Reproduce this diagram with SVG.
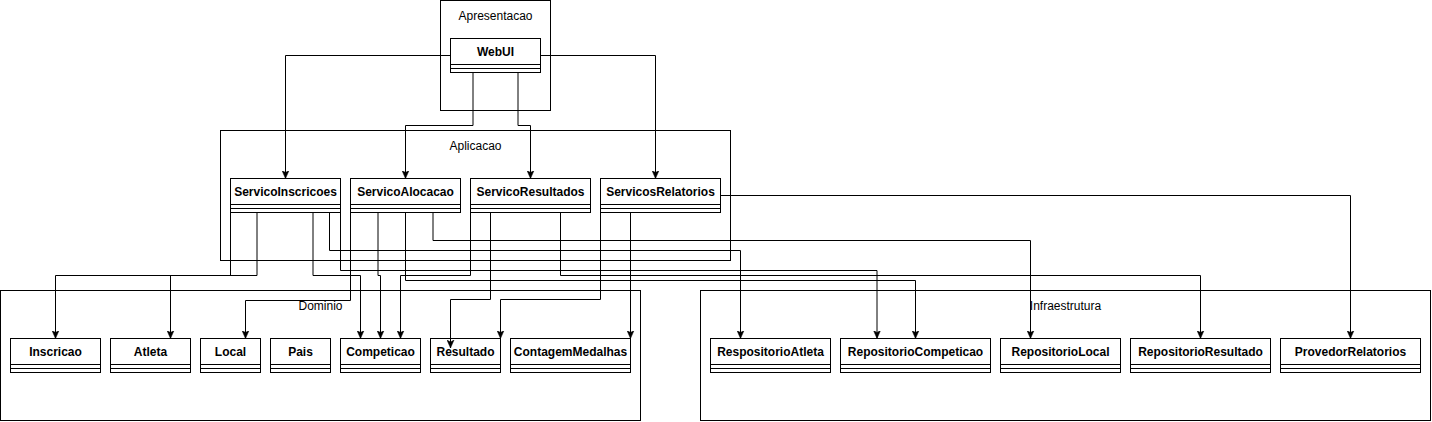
<svg xmlns="http://www.w3.org/2000/svg" width="1432" height="422" viewBox="0 0 1432 422">
<style>
.box{fill:#fff;stroke:#000;stroke-width:1}
.sep{fill:none;stroke:#000;stroke-width:1}
.cls{font-family:"Liberation Sans",Arial,sans-serif;font-size:12px;font-weight:bold;text-anchor:middle;fill:#000}
.lbl{font-family:"Liberation Sans",Arial,sans-serif;font-size:12px;text-anchor:middle;fill:#000}
.edge{fill:none;stroke:#000;stroke-width:1;marker-end:url(#arrow)}
</style>
<defs>
<marker id="arrow" markerUnits="userSpaceOnUse" markerWidth="8" markerHeight="8" viewBox="0 0 8 8" refX="8" refY="4" orient="auto">
<path d="M0,0.5 L8,4 L0,7.5 L2,4 Z" fill="#000" stroke="#000" stroke-width="0.5"/>
</marker>
</defs>
<rect width="1432" height="422" fill="#fff"/>
<g id="containers">
<g id="Apresentacao"><rect class="box" x="440.5" y="0.5" width="110" height="110"/><text class="lbl" x="495.5" y="20">Apresentacao</text></g>
<g id="Aplicacao"><rect class="box" x="220.5" y="130.5" width="510" height="130"/><text class="lbl" x="475.5" y="150">Aplicacao</text></g>
<g id="Dominio"><rect class="box" x="0.5" y="290.5" width="640" height="130"/><text class="lbl" x="320.5" y="310">Dominio</text></g>
<g id="Infraestrutura"><rect class="box" x="700.5" y="290.5" width="730" height="130"/><text class="lbl" x="1065.5" y="310">Infraestrutura</text></g>
</g>
<g id="node-WebUI"><rect class="box" x="450.5" y="38.5" width="90" height="34"/><path class="sep" d="M450.5,64.5H540.5M450.5,68.5H540.5"/><text class="cls" x="495.5" y="55.5">WebUI</text></g>
<g id="node-ServicoInscricoes"><rect class="box" x="230.5" y="178.5" width="110" height="34"/><path class="sep" d="M230.5,204.5H340.5M230.5,208.5H340.5"/><text class="cls" x="285.5" y="195.5">ServicoInscricoes</text></g>
<g id="node-ServicoAlocacao"><rect class="box" x="350.5" y="178.5" width="110" height="34"/><path class="sep" d="M350.5,204.5H460.5M350.5,208.5H460.5"/><text class="cls" x="405.5" y="195.5">ServicoAlocacao</text></g>
<g id="node-ServicoResultados"><rect class="box" x="470.5" y="178.5" width="120" height="34"/><path class="sep" d="M470.5,204.5H590.5M470.5,208.5H590.5"/><text class="cls" x="530.5" y="195.5">ServicoResultados</text></g>
<g id="node-ServicosRelatorios"><rect class="box" x="600.5" y="178.5" width="120" height="34"/><path class="sep" d="M600.5,204.5H720.5M600.5,208.5H720.5"/><text class="cls" x="660.5" y="195.5">ServicosRelatorios</text></g>
<g id="node-Inscricao"><rect class="box" x="10.5" y="338.5" width="90" height="34"/><path class="sep" d="M10.5,364.5H100.5M10.5,368.5H100.5"/><text class="cls" x="55.5" y="355.5">Inscricao</text></g>
<g id="node-Atleta"><rect class="box" x="110.5" y="338.5" width="80" height="34"/><path class="sep" d="M110.5,364.5H190.5M110.5,368.5H190.5"/><text class="cls" x="150.5" y="355.5">Atleta</text></g>
<g id="node-Local"><rect class="box" x="200.5" y="338.5" width="60" height="34"/><path class="sep" d="M200.5,364.5H260.5M200.5,368.5H260.5"/><text class="cls" x="230.5" y="355.5">Local</text></g>
<g id="node-Pais"><rect class="box" x="270.5" y="338.5" width="60" height="34"/><path class="sep" d="M270.5,364.5H330.5M270.5,368.5H330.5"/><text class="cls" x="300.5" y="355.5">Pais</text></g>
<g id="node-Competicao"><rect class="box" x="340.5" y="338.5" width="80" height="34"/><path class="sep" d="M340.5,364.5H420.5M340.5,368.5H420.5"/><text class="cls" x="380.5" y="355.5">Competicao</text></g>
<g id="node-Resultado"><rect class="box" x="430.5" y="338.5" width="70" height="34"/><path class="sep" d="M430.5,364.5H500.5M430.5,368.5H500.5"/><text class="cls" x="465.5" y="355.5">Resultado</text></g>
<g id="node-ContagemMedalhas"><rect class="box" x="510.5" y="338.5" width="120" height="34"/><path class="sep" d="M510.5,364.5H630.5M510.5,368.5H630.5"/><text class="cls" x="570.5" y="355.5">ContagemMedalhas</text></g>
<g id="node-RespositorioAtleta"><rect class="box" x="710.5" y="338.5" width="120" height="34"/><path class="sep" d="M710.5,364.5H830.5M710.5,368.5H830.5"/><text class="cls" x="770.5" y="355.5">RespositorioAtleta</text></g>
<g id="node-RepositorioCompeticao"><rect class="box" x="840.5" y="338.5" width="150" height="34"/><path class="sep" d="M840.5,364.5H990.5M840.5,368.5H990.5"/><text class="cls" x="915.5" y="355.5">RepositorioCompeticao</text></g>
<g id="node-RepositorioLocal"><rect class="box" x="1000.5" y="338.5" width="120" height="34"/><path class="sep" d="M1000.5,364.5H1120.5M1000.5,368.5H1120.5"/><text class="cls" x="1060.5" y="355.5">RepositorioLocal</text></g>
<g id="node-RepositorioResultado"><rect class="box" x="1130.5" y="338.5" width="140" height="34"/><path class="sep" d="M1130.5,364.5H1270.5M1130.5,368.5H1270.5"/><text class="cls" x="1200.5" y="355.5">RepositorioResultado</text></g>
<g id="node-ProvedorRelatorios"><rect class="box" x="1280.5" y="338.5" width="140" height="34"/><path class="sep" d="M1280.5,364.5H1420.5M1280.5,368.5H1420.5"/><text class="cls" x="1350.5" y="355.5">ProvedorRelatorios</text></g>
<g id="connectors">
<path class="edge" d="M450.5,55.5H285.5V178.5"/>
<path class="edge" d="M540.5,55.5H655.5V178.5"/>
<path class="edge" d="M473,72.5V125.5H405.5V178.5"/>
<path class="edge" d="M518,72.5V125.5H530.5V178.5"/>
<path class="edge" d="M230.5,212.5V275.5H55.5V338.5"/>
<path class="edge" d="M257,212.5V275.5H170.5V338.5"/>
<path class="edge" d="M313,212.5V275.5H360.5V338.5"/>
<path class="edge" d="M329.5,212.5V250.5H740.5V338.5"/>
<path class="edge" d="M340.5,212.5V270.5H877V338.5"/>
<path class="edge" d="M350.5,212.5V300.5H245.5V338.5"/>
<path class="edge" d="M378,212.5V275.5H380.5V338.5"/>
<path class="edge" d="M405.5,212.5V280.5H915.5V338.5"/>
<path class="edge" d="M433,212.5V240.5H1030.5V338.5"/>
<path class="edge" d="M470.5,212.5V275.5H400.5V338.5"/>
<path class="edge" d="M490.5,212.5V299.5H450.5V348"/>
<path class="edge" d="M560.5,212.5V275.5H1200.5V338.5"/>
<path class="edge" d="M600.5,212.5V299.5H500.5V338.5"/>
<path class="edge" d="M630.5,212.5V338.5"/>
<path class="edge" d="M720.5,195.5H1350.5V338.5"/>
</g>
</svg>
